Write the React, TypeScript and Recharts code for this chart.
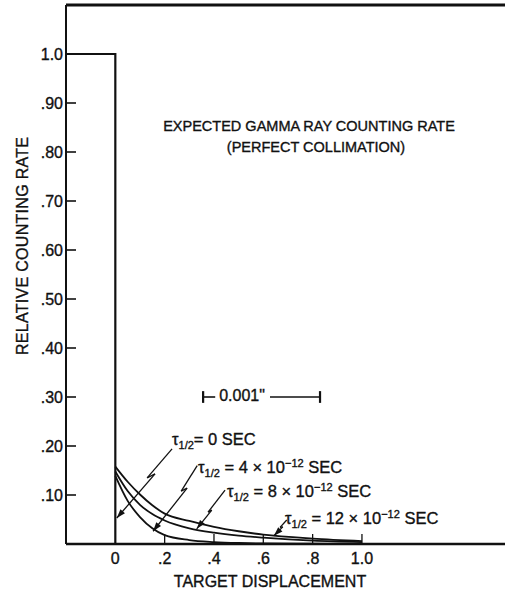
import React from 'react';
import { LineChart, Line, XAxis, YAxis, ReferenceLine } from 'recharts';

// target displacement and relative counting rate for each half-life
const displacement = [0, 0.05, 0.1, 0.15, 0.2, 0.3, 0.4, 0.5, 0.6, 0.8, 1.0];
const rateTau4 = [0.139, 0.088, 0.055, 0.032, 0.018, 0.008, 0.004, 0.002, 0.001, 0.0005, 0];
const rateTau8 = [0.148, 0.108, 0.08, 0.061, 0.048, 0.032, 0.023, 0.017, 0.013, 0.007, 0.004];
const rateTau12 = [0.158, 0.127, 0.101, 0.079, 0.062, 0.047, 0.035, 0.026, 0.019, 0.011, 0.006];

// tau = 0: step down at zero displacement
const stepX = [-0.2, 0, 0];
const stepRate = [1.0, 1.0, 0];

const yTicks = [0.1, 0.2, 0.3, 0.4, 0.5, 0.6, 0.7, 0.8, 0.9, 1.0];
const yTickLabels = ['.10', '.20', '.30', '.40', '.50', '.60', '.70', '.80', '.90', '1.0'];
const xTicks = [0, 0.2, 0.4, 0.6, 0.8, 1.0];
const xTickLabels = ['0', '.2', '.4', '.6', '.8', '1.0'];

// zig-zag leader lines from the labels to the curves (data units)
const pointers: number[][][] = [
  [[0.23, 0.194], [0.129, 0.135], [0.161, 0.143], [0.006, 0.053]],
  [[0.332, 0.16], [0.267, 0.108], [0.291, 0.114], [0.153, 0.026]],
  [[0.445, 0.11], [0.376, 0.065], [0.391, 0.069], [0.33, 0.031]],
  [[0.695, 0.049], [0.668, 0.034], [0.679, 0.035], [0.643, 0.017]],
];

const INK = '#111';
const FONT = '"Liberation Sans", Arial, sans-serif';
// a touch of stroke to mimic the heavier pen lettering
const inkText = { fill: INK, stroke: INK, strokeWidth: 0.35, fontFamily: FONT };

const curves = displacement.map((x, i) => ({
  x,
  t4: rateTau4[i],
  t8: rateTau8[i],
  t12: rateTau12[i],
}));
const step = stepX.map((x, i) => ({ x, step: stepRate[i] }));

const YTick = (props: any) => {
  const { x, y, payload } = props;
  const i = yTicks.indexOf(payload.value);
  return (
    <g>
      {payload.value < 1 && (
        <line x1={x + 3} x2={x + 13} y1={y} y2={y} stroke={INK} strokeWidth={1.6} />
      )}
      <text x={x} y={y + 6} textAnchor="end" fontSize={16} {...inkText}>
        {yTickLabels[i]}
      </text>
    </g>
  );
};

const XTick = (props: any) => {
  const { x, y, payload } = props;
  const i = xTicks.indexOf(payload.value);
  return (
    <g>
      {payload.value > 0 && (
        <line x1={x} x2={x} y1={y - 8} y2={y - 18} stroke={INK} strokeWidth={1.3} />
      )}
      <text x={x} y={y + 12} textAnchor="middle" fontSize={16} {...inkText}>
        {xTickLabels[i]}
      </text>
    </g>
  );
};

const ArrowSeg = (props: any) => {
  const { x1, y1, x2, y2 } = props;
  const a = Math.atan2(y2 - y1, x2 - x1);
  const L = 9;
  const W = 3;
  const bx = x2 - L * Math.cos(a);
  const by = y2 - L * Math.sin(a);
  const pts = `${x2},${y2} ${bx - W * Math.sin(a)},${by + W * Math.cos(a)} ${bx + W * Math.sin(a)},${by - W * Math.cos(a)}`;
  return (
    <g>
      <line x1={x1} y1={y1} x2={x2} y2={y2} stroke={INK} strokeWidth={1.3} />
      <polygon points={pts} fill={INK} />
    </g>
  );
};

const TauLabel = ({ x, y, value }: { x: number; y: number; value: string | null }) => (
  <text x={x} y={y} fontSize={16.5} {...inkText}>
    τ
    <tspan fontSize={11} dy={4}>1/2</tspan>
    {value === null ? (
      <tspan dy={-4}>= 0 SEC</tspan>
    ) : (
      <>
        <tspan dy={-4}>{` = ${value} × 10`}</tspan>
        <tspan fontSize={11} dy={-6}>−12</tspan>
        <tspan dy={6}> SEC</tspan>
      </>
    )}
  </text>
);

export default function App() {
  return (
    <div
      style={{
        position: 'absolute',
        left: 0,
        top: 0,
        width: 505,
        height: 592,
        background: '#fff',
        fontFamily: FONT,
      }}
    >
      <LineChart width={505} height={592} margin={{ top: 5, right: 0, left: 0, bottom: 18 }}>
        <XAxis
          type="number"
          dataKey="x"
          domain={[-0.2, 1.58]}
          ticks={xTicks}
          tick={<XTick />}
          tickSize={0}
          tickMargin={8}
          tickLine={false}
          height={30}
          allowDataOverflow
          axisLine={{ stroke: INK, strokeWidth: 2.5 }}
        />
        <YAxis
          type="number"
          domain={[0, 1.1]}
          ticks={yTicks}
          tick={<YTick />}
          tickSize={0}
          tickMargin={3}
          tickLine={false}
          width={66}
          allowDataOverflow
          axisLine={{ stroke: INK, strokeWidth: 2 }}
        />
        <ReferenceLine y={1.1} stroke={INK} strokeWidth={3} />

        <Line data={step} dataKey="step" type="linear" dot={false} stroke={INK} strokeWidth={2.2} isAnimationActive={false} />
        <Line data={curves} dataKey="t4" type="monotone" dot={false} stroke={INK} strokeWidth={1.8} isAnimationActive={false} />
        <Line data={curves} dataKey="t8" type="monotone" dot={false} stroke={INK} strokeWidth={1.8} isAnimationActive={false} />
        <Line data={curves} dataKey="t12" type="monotone" dot={false} stroke={INK} strokeWidth={1.8} isAnimationActive={false} />

        {pointers.map((p, k) =>
          p.slice(1).map((b, j) => {
            const a = p[j];
            const last = j === p.length - 2;
            return (
              <ReferenceLine
                key={`p${k}-${j}`}
                segment={[{ x: a[0], y: a[1] }, { x: b[0], y: b[1] }]}
                stroke={INK}
                strokeWidth={1.3}
                ifOverflow="visible"
                shape={last ? ArrowSeg : undefined}
              />
            );
          })
        )}

        {/* 0.001 inch scale bar */}
        <ReferenceLine segment={[{ x: 0.356, y: 0.3 }, { x: 0.405, y: 0.3 }]} stroke={INK} strokeWidth={1.6} ifOverflow="visible" />
        <ReferenceLine segment={[{ x: 0.627, y: 0.3 }, { x: 0.83, y: 0.3 }]} stroke={INK} strokeWidth={1.6} ifOverflow="visible" />
        <ReferenceLine segment={[{ x: 0.356, y: 0.288 }, { x: 0.356, y: 0.312 }]} stroke={INK} strokeWidth={2.2} ifOverflow="visible" />
        <ReferenceLine segment={[{ x: 0.83, y: 0.288 }, { x: 0.83, y: 0.312 }]} stroke={INK} strokeWidth={2.2} ifOverflow="visible" />
      </LineChart>

      <svg
        width={505}
        height={592}
        style={{ position: 'absolute', left: 0, top: 0, pointerEvents: 'none' }}
      >
        <text x={309} y={131} fontSize={14.5} {...inkText} textAnchor="middle">
          EXPECTED GAMMA RAY COUNTING RATE
        </text>
        <text x={316} y={152} fontSize={14.5} {...inkText} textAnchor="middle">
          (PERFECT COLLIMATION)
        </text>
        <text
          x={28}
          y={246}
          fontSize={16}
          {...inkText}
          textAnchor="middle"
          textLength={218}
          lengthAdjust="spacing"
          transform="rotate(-90 28 246)"
        >
          RELATIVE COUNTING RATE
        </text>
        <text x={270} y={587} fontSize={16} {...inkText} textAnchor="middle">
          TARGET DISPLACEMENT
        </text>
        <text x={242} y={401} fontSize={16} {...inkText} textAnchor="middle">
          0.001"
        </text>

        <TauLabel x={172} y={445} value={null} />
        <TauLabel x={198} y={473} value="4" />
        <TauLabel x={227} y={497} value="8" />
        <TauLabel x={285} y={524} value="12" />
      </svg>
    </div>
  );
}
